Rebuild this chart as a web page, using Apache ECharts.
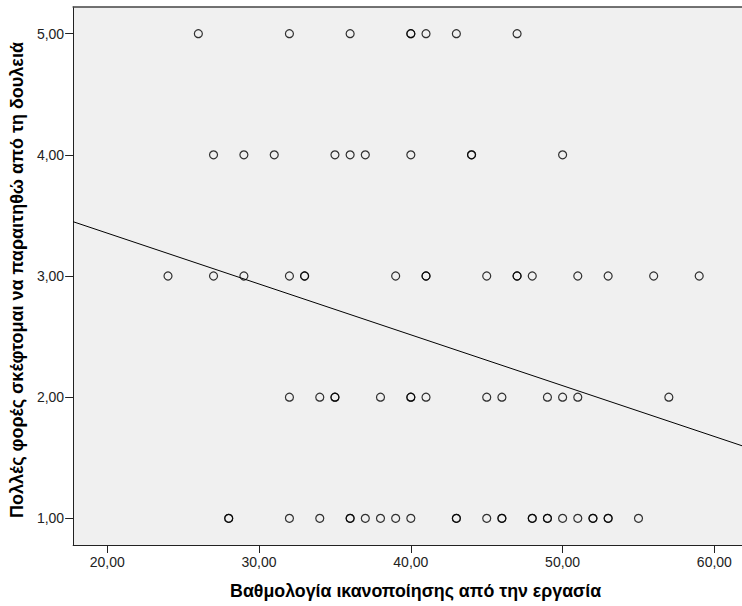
<!DOCTYPE html>
<html>
<head>
<meta charset="utf-8">
<script src="https://cdn.jsdelivr.net/npm/echarts@6/dist/echarts.min.js"></script>
<style>
html,body{margin:0;padding:0;background:#fff;}
#c{width:742px;height:606px;}
</style>
</head>
<body>
<div id="c"></div>
<script>
// Satisfaction scores (x) grouped by the y response level
const yLevels = [5, 4, 3, 2, 1];
const xAtLevel5 = [26, 32, 36, 40, 40, 41, 43, 47];
const xAtLevel4 = [27, 29, 31, 35, 36, 37, 40, 44, 44, 50];
const xAtLevel3 = [24, 27, 29, 32, 33, 33, 39, 41, 41, 45, 47, 47, 48, 51, 53, 56, 59];
const xAtLevel2 = [32, 34, 35, 35, 38, 40, 40, 41, 45, 46, 49, 50, 51, 57];
const xAtLevel1 = [28, 28, 32, 34, 36, 36, 37, 38, 39, 40, 43, 43, 45, 46, 46, 48, 48, 49, 49, 50, 51, 52, 52, 53, 53, 55];
// Fit line end points
const fitLine = [[17.75, 3.448], [61.82, 1.599]];
const xTicks = [20, 30, 40, 50, 60];
const yTicks = [1, 2, 3, 4, 5];
const xTitle = 'Βαθμολογία ικανοποίησης από την εργασία';
const yTitle = 'Πολλές φορές σκέφτομαι να παραιτηθώ από τη δουλειά';

const groups = [xAtLevel5, xAtLevel4, xAtLevel3, xAtLevel2, xAtLevel1];
const points = [];
groups.forEach((arr, i) => arr.forEach(x => points.push([x, yLevels[i]])));

const fmt = v => v.toFixed(2).replace('.', ',');
const font = "'Liberation Sans', Arial, sans-serif";

const chart = echarts.init(document.getElementById('c'), null, {renderer: 'svg'});
chart.setOption({
  backgroundColor: '#ffffff',
  animation: false,
  grid: {left: 70, right: 0, top: 7, bottom: 61, show: true, backgroundColor: '#f0f0f0', borderWidth: 0},
  xAxis: [{
    type: 'value', min: 17.75, max: 61.82,
    name: xTitle, nameLocation: 'middle', nameGap: 37,
    nameTextStyle: {fontFamily: font, fontWeight: 'bold', fontSize: 17.8, color: '#000', padding: [0, 0, 0, 16]},
    axisLine: {show: true, lineStyle: {color: '#222', width: 1}},
    axisTick: {show: true, length: 8, customValues: xTicks, lineStyle: {color: '#222'}},
    axisLabel: {customValues: xTicks, formatter: fmt, margin: 10, fontFamily: font, fontSize: 14, color: '#222'},
    splitLine: {show: false}
  }, {
    type: 'value', position: 'top', min: 17.75, max: 61.82,
    axisLine: {show: true, onZero: false, lineStyle: {color: '#444', width: 1.5}},
    axisTick: {show: false}, axisLabel: {show: false}, splitLine: {show: false}
  }],
  yAxis: {
    type: 'value', min: 0.78, max: 5.22,
    name: yTitle, nameLocation: 'middle', nameGap: 44, nameRotate: 90,
    nameTextStyle: {fontFamily: font, fontWeight: 'bold', fontSize: 18, color: '#000', padding: [0, 8, 0, 0]},
    axisLine: {show: true, lineStyle: {color: '#222', width: 1}},
    axisTick: {show: true, length: 8, customValues: yTicks, lineStyle: {color: '#222'}},
    axisLabel: {customValues: yTicks, formatter: fmt, margin: 9, fontFamily: font, fontSize: 14, color: '#222'},
    splitLine: {show: false}
  },
  series: [{
    type: 'scatter', data: points, symbol: 'circle', symbolSize: 8,
    itemStyle: {color: 'rgba(0,0,0,0)', borderColor: '#000', borderWidth: 1.2},
    emphasis: {disabled: true}
  }, {
    type: 'line', data: fitLine, symbol: 'none', silent: true,
    lineStyle: {color: '#000', width: 1}
  }]
});
</script>
</body>
</html>
